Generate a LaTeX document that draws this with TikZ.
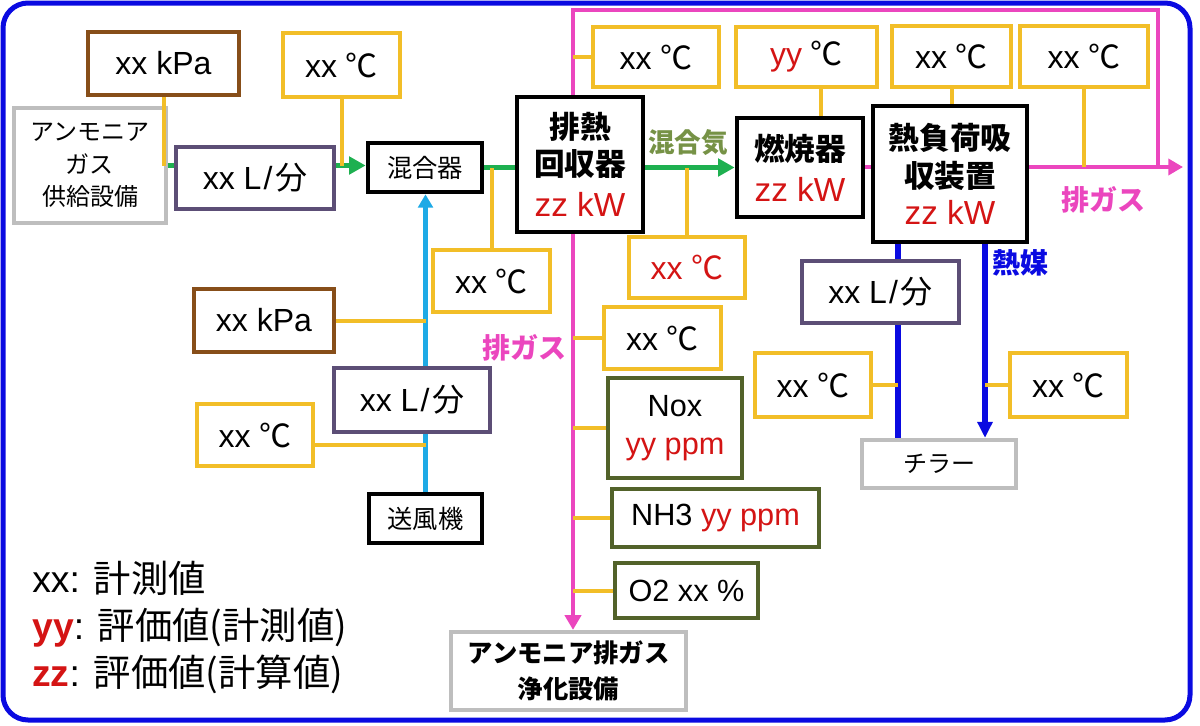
\documentclass[tikz,border=0pt]{standalone}
\usepackage{fontspec}
\setmainfont{Liberation Sans}
\newfontfamily\jp{Noto Sans CJK JP}
\usetikzlibrary{arrows.meta}
\definecolor{cY}{RGB}{242,190,40}
\definecolor{cBr}{RGB}{135,78,25}
\definecolor{cPu}{RGB}{92,78,118}
\definecolor{cGr}{RGB}{190,190,190}
\definecolor{cOl}{RGB}{82,98,42}
\definecolor{cGn}{RGB}{30,176,80}
\definecolor{cMx}{RGB}{118,146,70}
\definecolor{cPk}{RGB}{235,70,190}
\definecolor{cRd}{RGB}{212,20,20}
\definecolor{cBl}{RGB}{10,10,225}
\definecolor{cCy}{RGB}{30,170,230}
\pgfdeclarelayer{bg}
\pgfsetlayers{bg,main}
\newcommand\degC{{\jp ℃}}
\newcommand\perMin{\kern1.5pt/\kern2pt{\jp 分}}
\begin{document}
\begin{tikzpicture}[x=0.75pt,y=-0.75pt,
  pos/.style n args={4}{minimum width={(#3-#1)*0.75pt}, minimum height={(#4-#2)*0.75pt},
     at={({(#1+#3)/2},{(#2+#4)/2})}},
  box/.style={draw, line width=3.2pt, fill=white, inner sep=0pt, align=center, text=black},
  meter/.style={font=\fontsize{24}{28}\selectfont},
  ybox/.style={box, meter, draw=cY},
  brbox/.style={box, meter, draw=cBr},
  pubox/.style={box, meter, draw=cPu},
  gybox/.style={box, draw=cGr},
  olbox/.style={box, draw=cOl, font=\fontsize{23}{31.5}\selectfont},
  kbox/.style={box, draw=black, line width=3.5pt},
  tap/.style={draw=cY, line width=3pt},
  gline/.style={draw=cGn, line width=3.5pt},
  pline/.style={draw=cPk, line width=3.5pt},
  bline/.style={draw=cBl, line width=4pt},
  cline/.style={draw=cCy, line width=3.5pt},
  headG/.style={-{Triangle[length=12.5pt,width=13pt]}},
  headP/.style={-{Triangle[length=11pt,width=12pt]}},
  headB/.style={-{Triangle[length=12pt,width=11pt]}},
  headC/.style={-{Triangle[length=10pt,width=11pt]}},
  lbl/.style={font=\jp\bfseries\fontsize{20}{24}\selectfont, inner sep=0pt},
  legend/.style={anchor=west, inner sep=0pt, font=\fontsize{28}{32}\selectfont}
]
\useasboundingbox (0,0) rectangle (1200,725);
\draw[cBl, line width=3.75pt, rounded corners=18.75pt] (3,3) rectangle (1190,720);

% ---- nodes ----
\node[gybox, pos={14}{108}{166}{223}, font=\jp\fontsize{18}{24.5}\selectfont] (gas) {アンモニア\\ガス\\供給設備};
\node[brbox, pos={88}{32}{239}{95}] (kpa1) {xx kPa};
\node[ybox, pos={283}{33}{400}{97}] (t1) {xx \degC};
\node[pubox, pos={176}{147}{334}{209}] (f1) {xx L\perMin};
\node[kbox, pos={368}{143}{482}{192}, font=\jp\fontsize{19}{22}\selectfont] (mix) {混合器};
\node[ybox, pos={433}{250}{550}{312}] (t2) {xx \degC};
\node[brbox, pos={194}{289}{334}{352}] (kpa2) {xx kPa};
\node[pubox, pos={334}{368}{490}{432}] (f2) {xx L\perMin};
\node[ybox, pos={197}{404}{313}{466}] (t3) {xx \degC};
\node[kbox, pos={369}{494}{482}{543}, font=\jp\fontsize{19}{22}\selectfont] (fan) {送風機};
\node[kbox, pos={517}{97}{643}{232}, font=\fontsize{23}{28}\selectfont] (hr)
  {{\jp\bfseries 排熱}\\{\jp\bfseries 回収器}\\[3pt]{\color{cRd}\fontsize{25}{28}\selectfont zz kW}};
\node[ybox, pos={593}{27}{719}{87}] (t0) {xx \degC};
\node[ybox, pos={629}{237}{745}{298}, text=cRd] (t4) {xx \degC};
\node[kbox, pos={737}{118}{863}{217}, font=\fontsize{23}{31}\selectfont] (comb)
  {{\jp\bfseries 燃焼器}\\{\color{cRd}\fontsize{25}{31}\selectfont zz kW}};
\node[ybox, pos={736}{27}{877}{87}] (t5) {{\color{cRd}yy} \degC};
\node[kbox, pos={873}{106}{1027}{242}, font=\fontsize{23}{28}\selectfont] (heat)
  {{\jp\bfseries 熱負荷吸}\\{\jp\bfseries 収装置}\\{\color{cRd}\fontsize{25}{28}\selectfont zz kW}};
\node[ybox, pos={892}{26}{1011}{87}] (t6) {xx \degC};
\node[ybox, pos={1020}{26}{1148}{87}] (t7) {xx \degC};
\node[pubox, pos={802}{261}{959}{323}] (f3) {xx L\perMin};
\node[ybox, pos={755}{353}{871}{417}] (t8) {xx \degC};
\node[ybox, pos={1010}{353}{1127}{417}] (t9) {xx \degC};
\node[gybox, pos={862}{440}{1016}{488}, font=\jp\fontsize{18}{22}\selectfont] (chil) {チラー};
\node[ybox, pos={604}{307}{721}{369}] (t10) {xx \degC};
\node[olbox, pos={608}{378}{742}{478}] (nox) {\raisebox{-3pt}{Nox}\\{\color{cRd}yy ppm}};
\node[olbox, pos={612}{489}{819}{547}] (nh3) {NH3 {\color{cRd}yy ppm}};
\node[olbox, pos={615}{563}{758}{618}] (o2) {O2 xx \%};
\node[gybox, pos={451}{632}{686}{710}, font=\jp\bfseries\fontsize{19}{27}\selectfont] (purif) {アンモニア排ガス\\浄化設備};

% labels
\node[lbl, text=cMx] (lmix) at (688,143) {混合気};
\node[lbl, text=cPk, font=\jp\bfseries\fontsize{21}{24}\selectfont] (lex1) at (1103,200) {排ガス};
\node[lbl, text=cPk, font=\jp\bfseries\fontsize{21}{24}\selectfont] (lex2) at (524,348) {排ガス};
\node[lbl, text=cBl, font=\jp\bfseries\fontsize{21}{24}\selectfont] (lmed) at (1020,263) {熱媒};

% legend
\node[legend] (lg1) at (32,578) {xx: {\jp 計測値}};
\node[legend] (lg2) at (32,628) {{\bfseries\color{cRd}yy}: {\jp 評価値(計測値)}};
\node[legend] (lg3) at (32,674) {{\bfseries\color{cRd}zz}: {\jp 評価値(計算値)}};

% coordinates
\coordinate (pkTL) at (573,10);
\coordinate (pkTR) at (1158,10);
\coordinate (pkR) at (1158,167);
\coordinate (exout) at (1183,167);
\coordinate (bL) at (898,242);
\coordinate (bR) at (985,242);

% ---- background lines ----
\begin{pgfonlayer}{bg}
\draw[gline, headG] (gas.east) -- (mix.west |- gas.east);
\draw[gline] (mix.east) -- (hr.west |- mix.east);
\draw[cline, headC] (fan.north) -- (fan.north |- mix.south);
\draw[gline, headG] (hr.east |- comb.west) -- (comb.west);
\draw[pline] (comb.east |- pkR) -- (heat.west |- pkR);
\draw[pline, headP] (heat.east |- pkR) -- (exout);
\draw[pline, headP] (pkR) -- (pkTR) -- (pkTL) -- (pkTL |- purif.north);
\draw[bline] (bL) -- (bL |- chil.north);
\draw[bline, headB] (bR) -- (bR |- chil.north);
\end{pgfonlayer}

% ---- taps ----
\draw[tap] (kpa1.south) -- (kpa1.south |- gas.east);
\draw[tap] (t1.south) -- (t1.south |- gas.east);
\draw[tap] (t2.north) -- (t2.north |- mix.east);
\draw[tap] (kpa2.east) -- (kpa2.east -| fan.north);
\draw[tap] ([yshift=-7.5pt]t3.east) -- ([yshift=-7.5pt]t3.east -| fan.north);
\draw[tap] (t4.north) -- (t4.north |- comb.west);
\draw[tap] ([xshift=16pt]comb.north) -- ([xshift=16pt]comb.north |- t5.south);
\draw[tap] (t6.south) -- (heat.north -| t6.south);
\draw[tap] (t7.south) -- (t7.south |- pkR);
\draw[tap] (t0.west) -- (t0.west -| pkTL);
\draw[tap] (t10.west) -- (t10.west -| pkTL);
\draw[tap] (nox.west) -- (nox.west -| pkTL);
\draw[tap] (nh3.west) -- (nh3.west -| pkTL);
\draw[tap] (o2.west) -- (o2.west -| pkTL);
\draw[tap] (t8.east) -- (t8.east -| bL);
\draw[tap] (t9.west) -- (t9.west -| bR);
\end{tikzpicture}
\end{document}
